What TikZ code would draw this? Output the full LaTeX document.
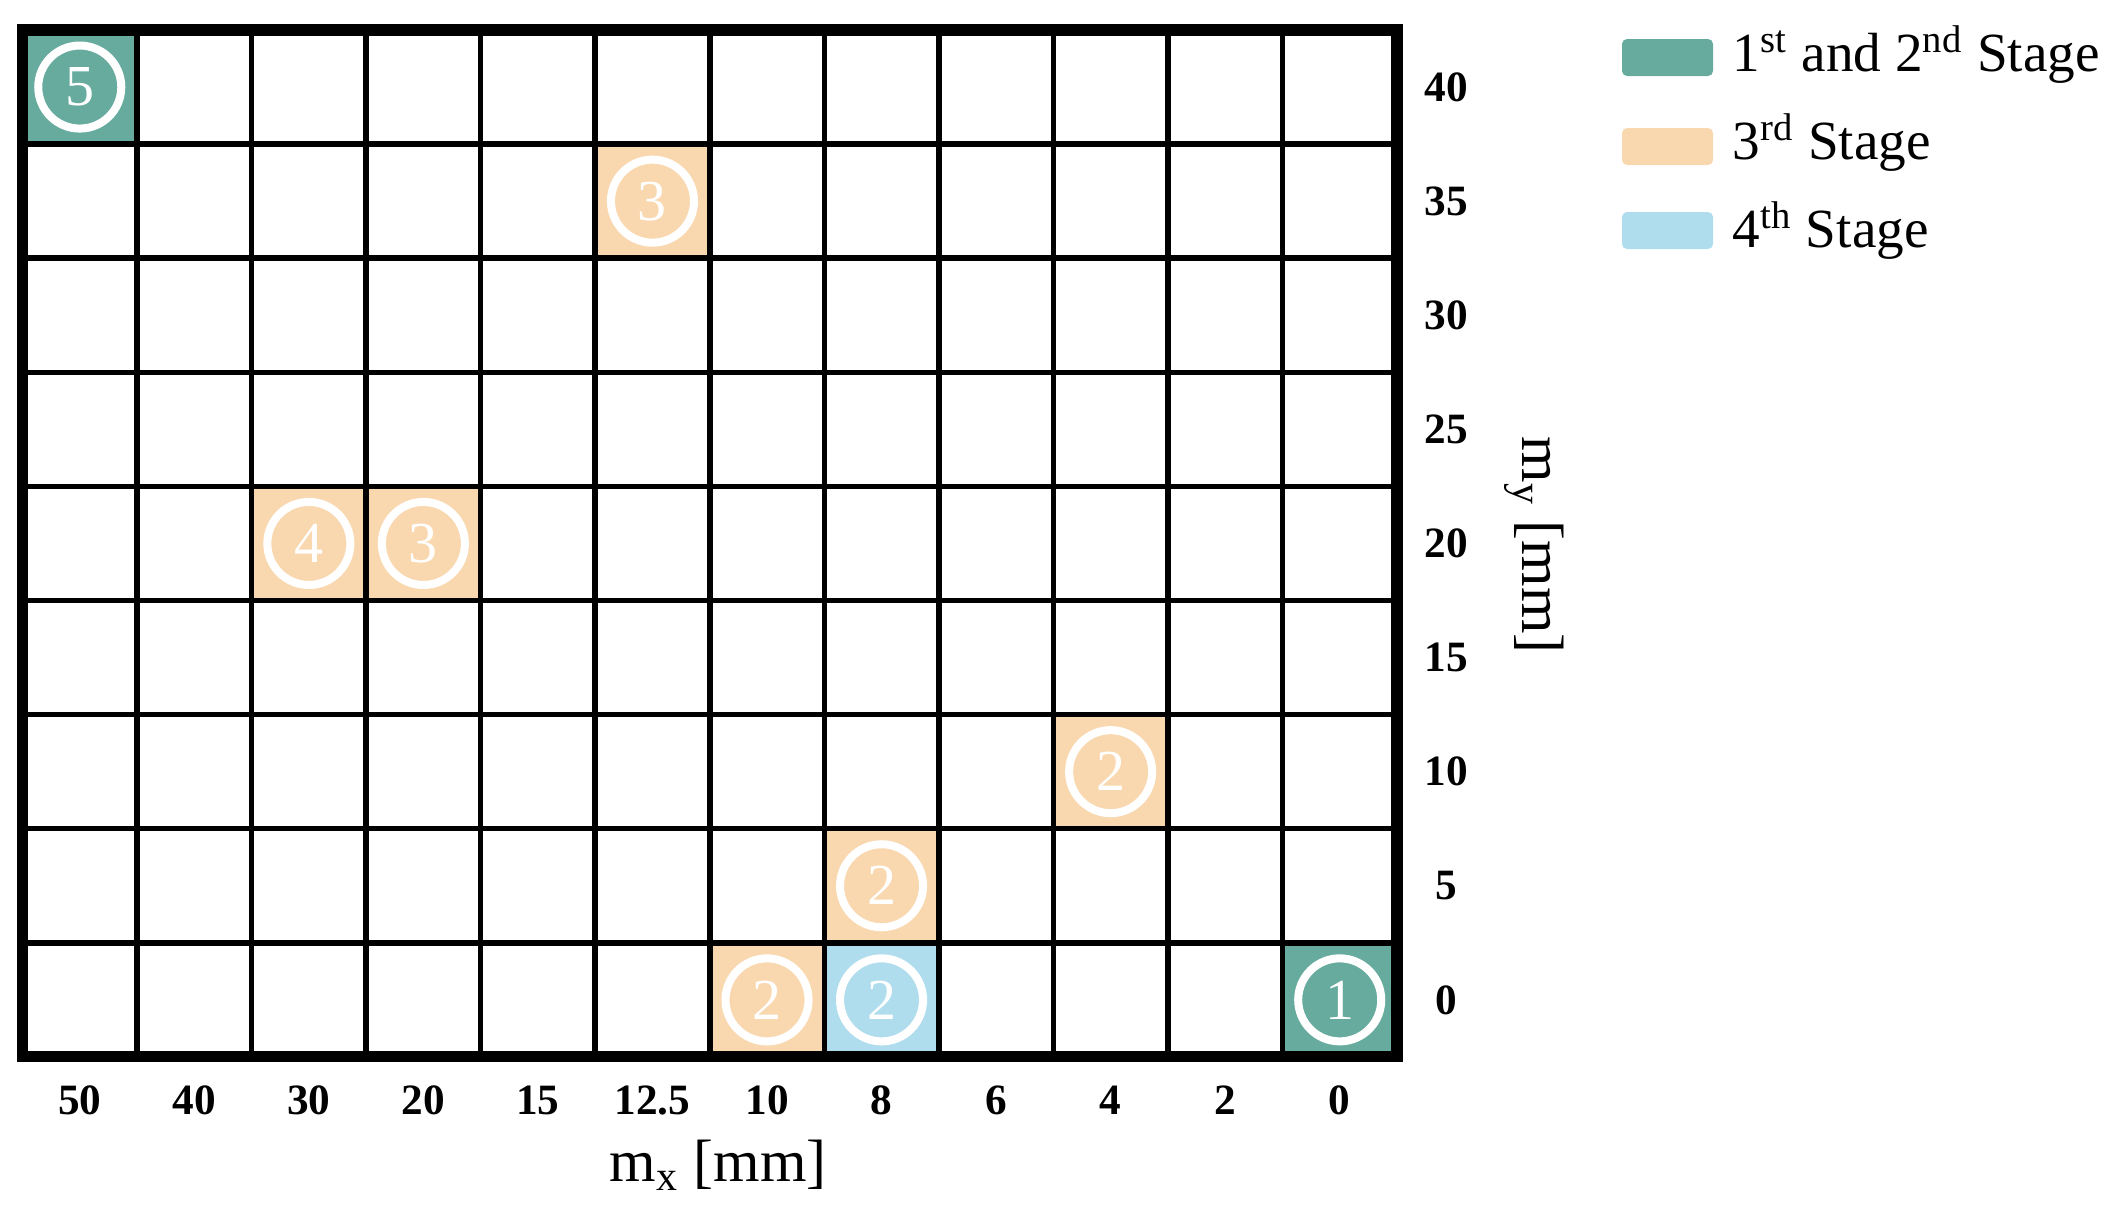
\documentclass[tikz,border=0pt]{standalone}
\usepackage{fontspec}
\setmainfont{Liberation Serif}
\definecolor{cgreen}{RGB}{102,171,158}
\definecolor{corange}{RGB}{250,216,175}
\definecolor{cblue}{RGB}{176,221,238}
\begin{document}
\begin{tikzpicture}[x=0.01cm,y=-0.01cm,
  ticklab/.style={font=\fontsize{12.3}{14}\selectfont\bfseries, inner sep=0pt},
  axlab/.style={font=\fontsize{17}{20}\selectfont, inner sep=0pt},
  numtxt/.style={font=\fontsize{16.5}{18}\selectfont, text=white, inner sep=0pt},
  legtxt/.style={font=\fontsize{15.7}{18}\selectfont, inner sep=0pt, anchor=base west},
  swatch/.style={rounded corners=0.05cm},
  ring/.style={draw=white, line width=0.08cm},
  gridline/.style={line width=0.055cm, black},
  border/.style={line width=0.11cm, black}]
\useasboundingbox (0,0) rectangle (2109,1209);
\def\gx{22.5}\def\gy{30}\def\px{114.54}\def\py{114.1}
% coloured cells
\foreach \c/\r/\col/\n in {0/0/cgreen/5, 5/1/corange/3, 2/4/corange/4, 3/4/corange/3,
  9/6/corange/2, 7/7/corange/2, 6/8/corange/2, 7/8/cblue/2, 11/8/cgreen/1}{
  \fill[\col] ({\gx+\px*\c},{\gy+\py*\r}) rectangle ++(\px,\py);
  \coordinate (cc\c-\r) at ({\gx+\px*(\c+0.5)},{\gy+\py*(\r+0.5)});
  \draw[ring] (cc\c-\r) circle (0.415cm);
  \node[numtxt] (num\c-\r) at (cc\c-\r) {\n};
}
% grid
\foreach \i in {1,...,11}{
  \draw[gridline] ({\gx+\px*\i},\gy) -- ({\gx+\px*\i},{\gy+9*\py});
}
\foreach \j in {1,...,8}{
  \draw[gridline] (\gx,{\gy+\py*\j}) -- ({\gx+12*\px},{\gy+\py*\j});
}
\draw[border] (\gx,\gy) rectangle ({\gx+12*\px},{\gy+9*\py});
% x ticks
\foreach \t [count=\i from 0] in {50,40,30,20,15,12.5,10,8,6,4,2,0}{
  \node[ticklab] (xt\i) at ({\gx+\px*(\i+0.5)},1100) {\t};
}
% y ticks
\foreach \t [count=\j from 0] in {40,35,30,25,20,15,10,5,0}{
  \node[ticklab] (yt\j) at (1446,{\gy+\py*(\j+0.5)}) {\t};
}
\node[axlab] (xlab) at (718,1165) {m$_{\mathrm{x}}$ [mm]};
\node[axlab, rotate=-90] (ylab) at (1534,545) {m$_{\mathrm{y}}$ [mm]};
% legend
\fill[cgreen, swatch] (1622,39) rectangle (1713,76);
\fill[corange, swatch] (1622,128) rectangle (1713,165);
\fill[cblue, swatch] (1622,212) rectangle (1713,249);
\node[legtxt] (leg1) at (1732,71) {1\textsuperscript{st} and 2\textsuperscript{nd} Stage};
\node[legtxt] (leg2) at (1732,159) {3\textsuperscript{rd} Stage};
\node[legtxt] (leg3) at (1732,247) {4\textsuperscript{th} Stage};
\end{tikzpicture}
\end{document}
